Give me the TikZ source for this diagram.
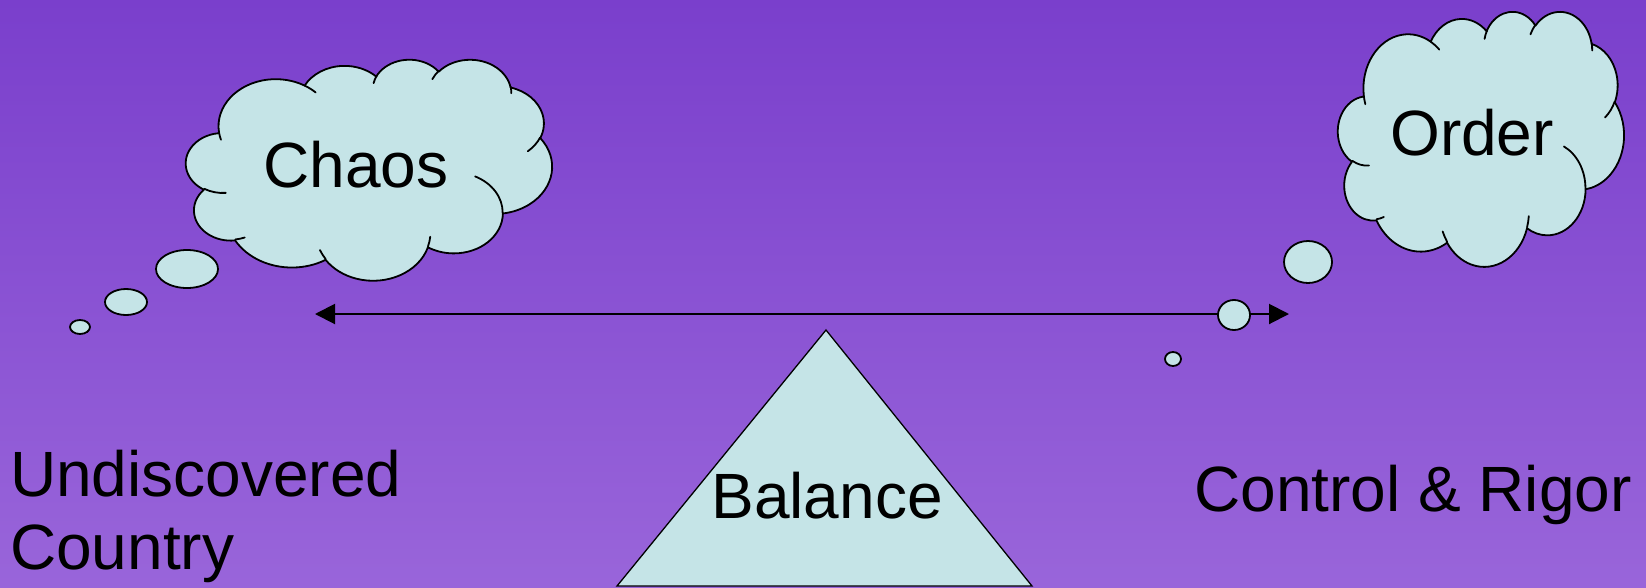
\documentclass[tikz,border=0pt]{standalone}
\usepackage{fontspec}
\setmainfont{Liberation Sans}
\usetikzlibrary{arrows.meta,shapes.geometric}
\definecolor{bgtop}{RGB}{122,63,204}
\definecolor{bgbot}{RGB}{153,101,218}
\definecolor{cloudfill}{RGB}{197,228,231}

% convert a DrawingML (visual) angle to a parametric ellipse angle
\pgfmathdeclarefunction{cvang}{3}{%
  \begingroup
  \pgfmathparse{atan2((#2)*sin(#1),(#3)*cos(#1))}\let\cvt\pgfmathresult
  \pgfmathparse{\cvt-(#1)}\let\cvd\pgfmathresult
  \pgfmathparse{(#1)+\cvd-360*round(\cvd/360)}%
  \pgfmathsmuggle\pgfmathresult
  \endgroup}
\newcommand\CA[4]{arc[x radius=#1pt, y radius=#2pt, start angle={cvang(#3,#1,#2)}, end angle={cvang(#3+#4,#1,#2)}]}

\tikzset{
  cloudline/.style={draw=black, line width=1.8pt, line join=round, line cap=round},
  bubble/.style={ellipse, draw=black, line width=1.8pt, fill=cloudfill, inner sep=0pt},
  lbl/.style={font=\fontsize{64}{73}\selectfont, inner sep=0pt, text=black},
}

\newcommand\cloudat[5]{%
  \begin{scope}[shift={(#2,#3)}, x=1pt, y=1pt, xscale=#4/4320, yscale=-#5/4320]
    \draw[cloudline, fill=cloudfill] (390,1437)
      \CA{675.3}{919.0}{-190.4875}{123.7805}
      \CA{533.3}{726.7}{-144.1024}{89.9452}
      \CA{436.5}{594.5}{-145.8079}{99.7230}
      \CA{485.7}{659.5}{-130.9861}{117.2417}
      \CA{533.3}{727.3}{-78.7089}{109.0269}
      \CA{677.5}{922.0}{-46.2673}{130.2690}
      \CA{578.5}{786.7}{0.6250}{114.0333}
      \CA{675.2}{921.5}{22.4516}{115.1726}
      \CA{772.0}{1054.3}{66.2426}{75.7110}
      \CA{436.0}{591.8}{-274.9421}{146.7356}
      \CA{434.5}{594.5}{-246.8285}{152.5189}
      -- cycle;
    \draw[cloudline]
      (469.3,2617.7) \CA{434.5}{594.5}{86.7420}{26.4295}
      (692.8,3489.9) \CA{436.0}{591.8}{73.6105}{11.4475}
      (1647.8,3909.0) \CA{675.2}{921.5}{137.6242}{14.0811}
      (2882.7,3475.1) \CA{675.2}{921.5}{6.4533}{15.9984}
      (3412.9,2295.4) \CA{578.5}{786.7}{-70.2924}{70.9174}
      (4179.8,1535.4) \CA{533.3}{727.3}{30.3180}{27.7515}
      (3832.4,542.6) \CA{485.7}{659.5}{-13.7443}{14.8589}
      (2907.8,395.2) \CA{485.7}{659.5}{-149.1815}{18.1954}
      (2214.1,472.0) \CA{436.5}{594.5}{-163.4943}{17.6864}
      (1400.0,519.2) \CA{675.3}{919.0}{-66.7070}{12.3194}
      (412.7,1578.9) \CA{675.3}{919.0}{157.6544}{11.8582};
    \coordinate (#1) at (2160,2160);
  \end{scope}}

\begin{document}
\begin{tikzpicture}[x=1pt,y=-1pt]
  \useasboundingbox (0,0) rectangle (1646,587);
  \shade[top color=bgtop, bottom color=bgbot] (0,0) rectangle (1646,587);

  % see-saw arrow
  \coordinate (aL) at (315,314);
  \coordinate (aR) at (1289,314);
  \draw[line width=2pt, {Triangle[length=20pt,width=20pt]}-{Triangle[length=20pt,width=20pt]}] (aL) -- (aR);

  % thought bubbles (left)
  \node[bubble, minimum width=62pt, minimum height=38pt] (bl1) at (187,269) {};
  \node[bubble, minimum width=42pt, minimum height=26pt] (bl2) at (126,302) {};
  \node[bubble, minimum width=20pt, minimum height=14pt] (bl3) at (80,327) {};
  % thought bubbles (right)
  \node[bubble, minimum width=48pt, minimum height=42pt] (br1) at (1308,262) {};
  \node[bubble, minimum width=32pt, minimum height=30pt] (br2) at (1234,315) {};
  \node[bubble, minimum width=16pt, minimum height=14pt] (br3) at (1173,359) {};

  % clouds
  \cloudat{chaoscloud}{186}{59}{366}{221}
  \cloudat{ordercloud}{1338}{11}{286}{255}

  % fulcrum
  \coordinate (tA) at (826,330);
  \coordinate (tR) at (1032,586);
  \coordinate (tL) at (617,586);
  \draw[line width=1.3pt, fill=cloudfill, line join=miter] (tA) -- (tR) -- (tL) -- cycle;

  % labels
  \node[lbl, anchor=base] (chaos) at (356,187) {Chaos};
  \node[lbl, anchor=base] (order) at (1472,155) {Order};
  \node[lbl, anchor=base] (balance) at (827,518) {Balance};
  \node[lbl, anchor=base west, align=left] (undisc) at (10,569) {Undiscovered\\Country};
  \node[lbl, anchor=base west] (control) at (1194,511) {Control \& Rigor};
\end{tikzpicture}
\end{document}
